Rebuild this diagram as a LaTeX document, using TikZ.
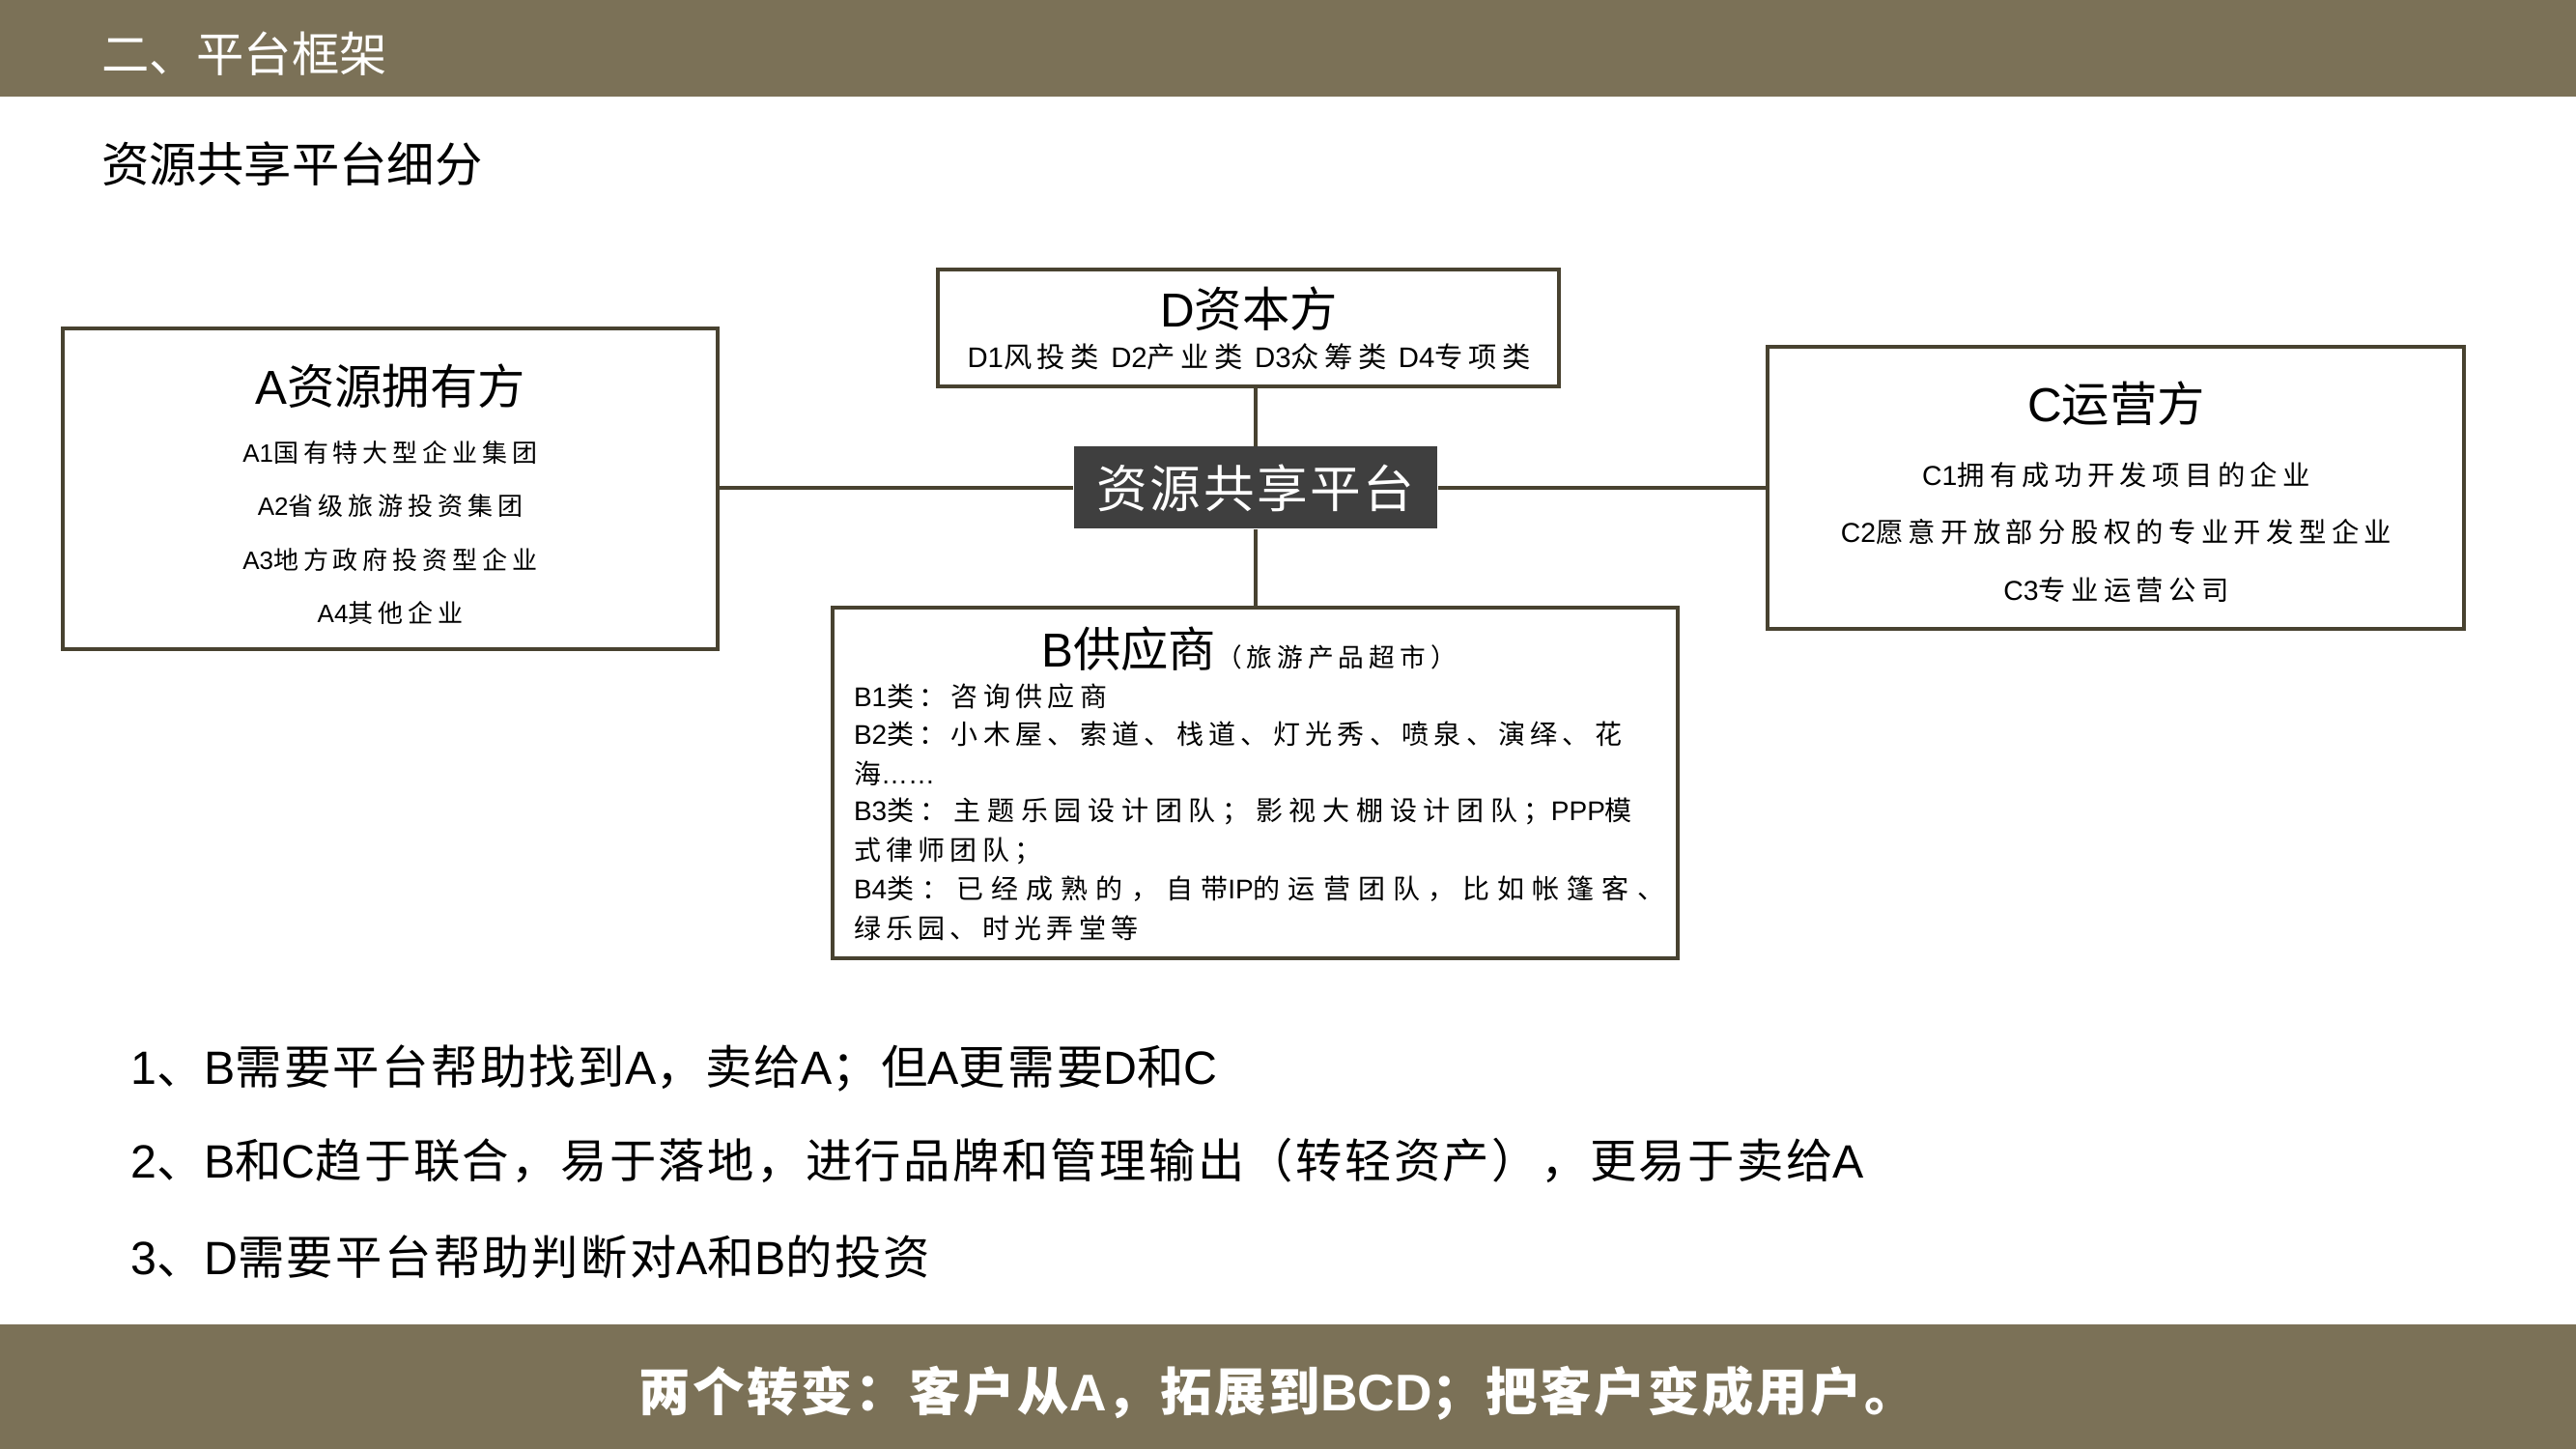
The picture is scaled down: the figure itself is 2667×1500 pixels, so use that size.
\documentclass[tikz,border=0pt]{standalone}
\usepackage{fontspec}
\setmainfont{Noto Sans CJK SC}
\newfontfamily\lat{Liberation Sans}
\newfontfamily\cjs[LetterSpace=19]{Noto Sans CJK SC}
\newfontfamily\cjsb[LetterSpace=24]{Noto Sans CJK SC}
\newfontfamily\cjsc[LetterSpace=29]{Noto Sans CJK SC}
\newfontfamily\cjm[LetterSpace=5]{Noto Sans CJK SC}
\definecolor{barc}{RGB}{123,113,87}
\definecolor{edgec}{RGB}{72,66,48}
\definecolor{hubc}{RGB}{63,63,63}
\newcommand\fs[1]{\fontsize{#1}{#1}\selectfont}
\begin{document}
\begin{tikzpicture}[x=0.3pt,y=-0.3pt,
  box/.style={draw=edgec,line width=1.1pt,fill=white,inner sep=0pt,rectangle},
  hubst/.style={fill=hubc,text=white,inner sep=0pt,rectangle},
  conn/.style={draw=edgec,line width=1pt},
  txt/.style={inner sep=0pt,outer sep=0pt}]
\useasboundingbox (0,0) rectangle (2667,1500);
\fill[barc] (0,0) rectangle (2667,100);
\fill[barc] (0,1371) rectangle (2667,1500);

\node[txt,anchor=west,text=white,font=\fs{14.8}] (title) at (105,56) {二、平台框架};
\node[txt,anchor=west,font=\fs{14.8}] (sub) at (105,170) {资源共享平台细分};

% boxes
\node[box,minimum width=203.4pt,minimum height=99.6pt] (A) at (404,506) {};
\node[box,minimum width=192.9pt,minimum height=36.3pt] (D) at (1292.5,339.5) {};
\node[hubst,minimum width=112.8pt,minimum height=25.5pt,font=\cjm\fs{15.8}] (P) at (1300,505) {资源共享平台};
\node[box,minimum width=262.5pt,minimum height=108.9pt] (B) at (1299.5,810.5) {};
\node[box,minimum width=216.3pt,minimum height=87.6pt] (C) at (2190.5,505) {};

% connectors
\draw[conn] (P.west) -- (P.west -| A.east);
\draw[conn] (P.east) -- (P.east -| C.west);
\draw[conn] (P.north) -- (P.north |- D.south);
\draw[conn] (P.south) -- (P.south |- B.north);

% A texts
\node[txt,font=\fs{14.8}] (Ah) at (404,400) {{\lat A}资源拥有方};
\node[txt,font=\cjs\fs{7.8}] (A1) at (404,469) {{\lat A1}国有特大型企业集团};
\node[txt,font=\cjs\fs{7.8}] (A2) at (404,524) {{\lat A2}省级旅游投资集团};
\node[txt,font=\cjs\fs{7.8}] (A3) at (404,580) {{\lat A3}地方政府投资型企业};
\node[txt,font=\cjs\fs{7.8}] (A4) at (404,634) {{\lat A4}其他企业};

% D texts
\node[txt,font=\fs{14.8}] (Dh) at (1293,320) {{\lat D}资本方};
\node[txt,font=\cjs\fs{8.8}] (D1) at (1293,369) {{\lat D1}风投类 {\lat D2}产业类 {\lat D3}众筹类 {\lat D4}专项类};

% C texts
\node[txt,font=\fs{14.8}] (Ch) at (2191,418) {{\lat C}运营方};
\node[txt,font=\cjs\fs{8.5}] (C1) at (2191,492) {{\lat C1}拥有成功开发项目的企业};
\node[txt,font=\cjs\fs{8.5}] (C2) at (2191,551) {{\lat C2}愿意开放部分股权的专业开发型企业};
\node[txt,font=\cjs\fs{8.5}] (C3) at (2191,611) {{\lat C3}专业运营公司};

% B texts
\node[txt,font=\fs{14.8}] (Bh) at (1293,672) {{\lat B}供应商{\cjs\fs{8}（旅游产品超市）}};
\node[txt,anchor=west,font=\cjs\fs{8.4}] (B1) at (884,721) {{\lat B1}类：咨询供应商};
\node[txt,anchor=west,font=\cjs\fs{8.4}] (B2) at (884,760) {{\lat B2}类：小木屋、索道、栈道、灯光秀、喷泉、演绎、花};
\node[txt,anchor=west,font=\cjs\fs{8.4}] (B2b) at (884,801) {海{\lat ……}};
\node[txt,anchor=west,font=\cjsb\fs{8.4}] (B3) at (884,840) {{\lat B3}类：主题乐园设计团队；影视大棚设计团队；{\lat PPP}模};
\node[txt,anchor=west,font=\cjs\fs{8.4}] (B3b) at (884,881) {式律师团队；};
\node[txt,anchor=west,font=\cjsc\fs{8.4}] (B4) at (884,920) {{\lat B4}类：已经成熟的，自带{\lat IP}的运营团队，比如帐篷客、};
\node[txt,anchor=west,font=\cjs\fs{8.4}] (B4b) at (884,961) {绿乐园、时光弄堂等};

% bullets
\node[txt,anchor=west,font=\cjm\fs{14.5}] (n1) at (136,1106) {{\lat 1}、{\lat B}需要平台帮助找到{\lat A}，卖给{\lat A}；但{\lat A}更需要{\lat D}和{\lat C}};
\node[txt,anchor=west,font=\cjm\fs{14.5}] (n2) at (136,1201) {{\lat 2}、{\lat B}和{\lat C}趋于联合，易于落地，进行品牌和管理输出（转轻资产），更易于卖给{\lat A}};
\node[txt,anchor=west,font=\cjm\fs{14.5}] (n3) at (136,1301) {{\lat 3}、{\lat D}需要平台帮助判断对{\lat A}和{\lat B}的投资};

% bottom bar text
\node[txt,text=white,font=\cjm\bfseries\fs{16}] (foot) at (1323,1442) {两个转变：客户从{\lat\bfseries A}，拓展到{\lat\bfseries BCD}；把客户变成用户。};
\end{tikzpicture}
\end{document}
